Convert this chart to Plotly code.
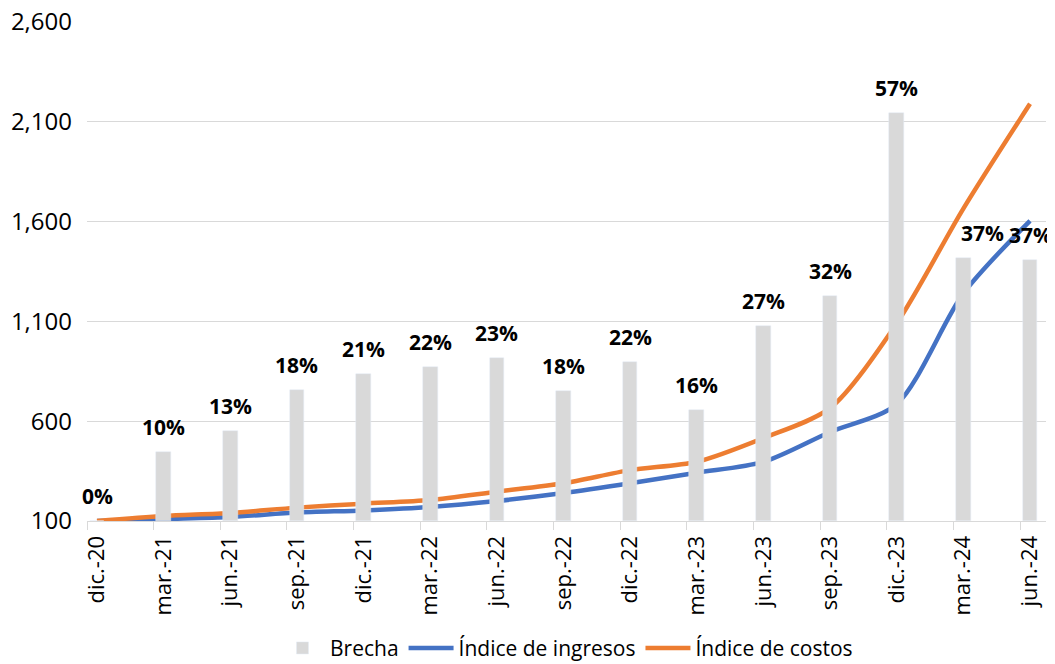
import plotly.graph_objects as go

categories = ["dic.-20", "mar.-21", "jun.-21", "sep.-21", "dic.-21", "mar.-22", "jun.-22",
              "sep.-22", "dic.-22", "mar.-23", "jun.-23", "sep.-23", "dic.-23", "mar.-24", "jun.-24"]
brecha = [0.0, 0.097, 0.126, 0.184, 0.206, 0.216, 0.228, 0.182, 0.223, 0.156, 0.273, 0.316, 0.572, 0.369, 0.366]
indice_ingresos = [100, 110, 120, 142, 153, 170, 200, 240, 289, 342, 396, 546, 685, 1240, 1604]
indice_costos = [100, 125, 140, 167, 187, 205, 247, 289, 355, 397, 516, 666, 1090, 1665, 2190]
y_ticks = [100, 600, 1100, 1600, 2100, 2600]

FONT = "Open Sans"
GRID = "#d9d9d9"
idx = list(range(len(categories)))

fig = go.Figure()
fig.add_trace(go.Bar(x=idx, y=brecha, name="Brecha", marker_color="#d9d9d9",
                     width=0.22, yaxis="y2"))
fig.add_trace(go.Scatter(x=idx, y=indice_ingresos, name="Índice de ingresos", mode="lines",
                         line=dict(color="#4472C4", width=4.5, shape="spline", smoothing=0.8)))
fig.add_trace(go.Scatter(x=idx, y=indice_costos, name="Índice de costos", mode="lines",
                         line=dict(color="#ED7D31", width=4.5, shape="spline", smoothing=0.8)))
# invisible trace to carry the offset tick-mark axis
fig.add_trace(go.Scatter(x=[idx[0]], y=[y_ticks[0]], xaxis="x2", mode="markers",
                         marker=dict(opacity=0), showlegend=False, hoverinfo="skip"))

annotations = []
for i, (c, v) in enumerate(zip(categories, brecha)):
    annotations.append(dict(x=i, y=v, xref="x", yref="y2", text=f"{round(v * 100)}%",
                            showarrow=False, yanchor="middle", yshift=25,
                            xshift=19 if c == "mar.-24" else 0,
                            font=dict(family=FONT, size=21, color="black", weight="bold")))

xr = [-0.15, 14.24]
# page body has an 8px margin, so the figure is sized/placed to compensate
fig.update_layout(
    width=1047, height=656,
    margin=dict(l=79, r=9, t=14, b=143, autoexpand=False),
    plot_bgcolor="white", paper_bgcolor="white",
    font=dict(family=FONT, size=21, color="black"),
    bargap=0,
    xaxis=dict(range=xr, tickmode="array", tickvals=idx, ticktext=categories,
               tickangle=-90, ticks="", showgrid=False, zeroline=False,
               showline=True, linecolor=GRID, linewidth=1.3, automargin=False,
               tickfont=dict(size=22), ticklabelstandoff=5, ticklabeloverflow="allow"),
    xaxis2=dict(range=xr, overlaying="x", side="bottom", tickmode="array",
                tickvals=[i - 0.15 for i in idx], ticks="outside", ticklen=8,
                tickcolor=GRID, tickwidth=1.3, showticklabels=False, automargin=False,
                showgrid=False, zeroline=False, showline=False),
    yaxis=dict(range=[100, 2600], tickmode="array", tickvals=y_ticks, tickformat=",",
               showgrid=True, gridcolor=GRID, gridwidth=1.3, zeroline=False, automargin=False,
               showline=False, ticks="", ticklabelstandoff=14, tickfont=dict(size=24),
               ticklabeloverflow="allow"),
    yaxis2=dict(range=[0, 0.7], overlaying="y", side="right", visible=False,
                showgrid=False, zeroline=False, automargin=False),
    legend=dict(orientation="h", x=0.5, xanchor="center", y=-0.255, yanchor="middle",
                font=dict(size=21), itemwidth=45, traceorder="normal"),
    annotations=annotations,
    showlegend=True,
)

fig.write_html("out.html")
